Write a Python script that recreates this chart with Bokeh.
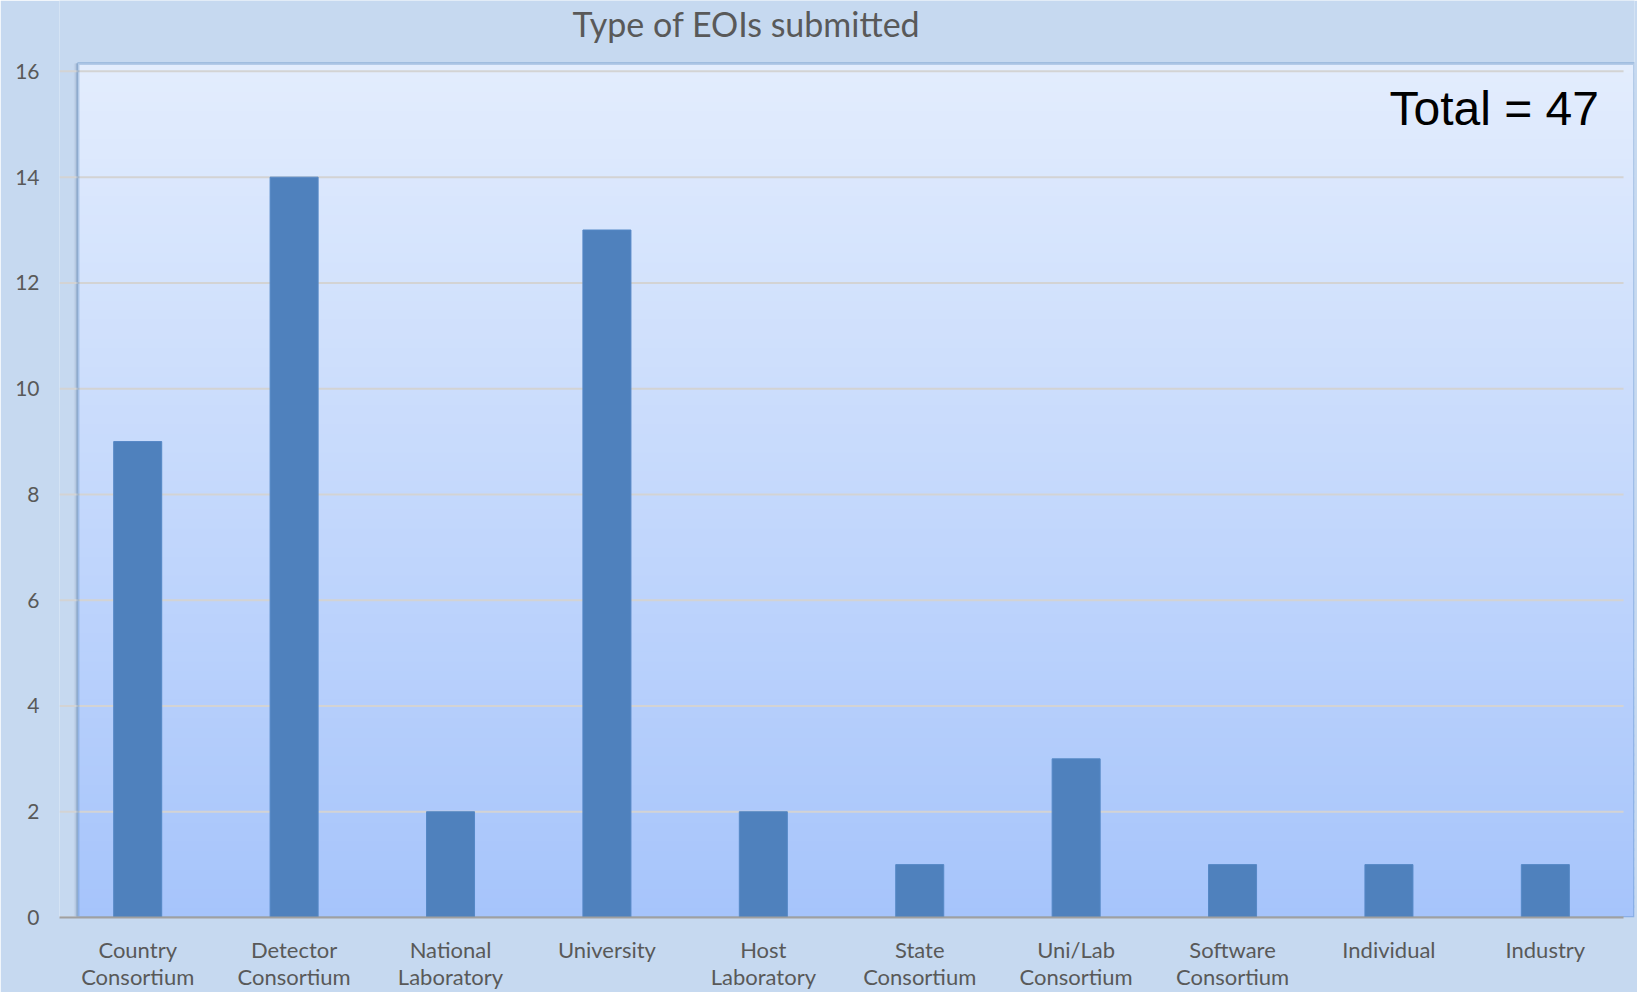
from bokeh.plotting import figure
from bokeh.models import Range1d, FixedTicker, BoxAnnotation, Label
from bokeh.embed import file_html
from bokeh.resources import INLINE

# ---- data ----
categories = [
    "Country\nConsortium",
    "Detector\nConsortium",
    "National\nLaboratory",
    "University",
    "Host\nLaboratory",
    "State\nConsortium",
    "Uni/Lab\nConsortium",
    "Software\nConsortium",
    "Individual",
    "Industry",
]
counts = [9, 14, 2, 13, 2, 1, 3, 1, 1, 1]
y_ticks = [0, 2, 4, 6, 8, 10, 12, 14, 16]
title_text = "Type of EOIs submitted"
total_text = "Total = %d" % sum(counts)

xs = list(range(len(categories)))

OUTER = "#C6D9F0"
TEXT = "#595959"
PX = 1.0 / 156.3  # one pixel in x data units (style helper)

p = figure(
    width=1637, height=992,
    x_range=Range1d(-0.5, 9.57),
    y_range=Range1d(0, 17.34),
    output_backend="svg", toolbar_location=None,
    min_border_left=59, min_border_right=3, min_border_top=0, min_border_bottom=73,
)
p.background_fill_color = OUTER
p.border_fill_color = OUTER
p.outline_line_color = None

# gradient panel (style only)
top_c = (0xE3, 0xED, 0xFD)
bot_c = (0xA6, 0xC4, 0xFB)
n = 90
ymax = 16.15
panel_left = -0.382
for i in range(n):
    f = (i + 0.5) / n
    c = tuple(int(round(bot_c[k] + (top_c[k] - bot_c[k]) * f)) for k in range(3))
    b = ymax * i / n
    t = min(ymax, ymax * (i + 1.3) / n)
    p.add_layout(BoxAnnotation(left=panel_left, bottom=b, top=t,
                               fill_color="#%02x%02x%02x" % c, fill_alpha=1.0,
                               line_color=None, level="image"))
# soft shadow left of the panel
for k, col in enumerate(["#B9CCE4", "#AEC1D9", "#A3B6CE"]):
    p.add_layout(BoxAnnotation(left=panel_left - (4 - k) * PX, right=panel_left,
                               bottom=0, top=ymax, fill_color=col, fill_alpha=0.5,
                               line_color=None, level="image"))

# grid lines (limited to category span)
p.xgrid.visible = False
p.ygrid.visible = False
p.segment(x0=[-0.5] * len(y_ticks), x1=[len(categories) - 0.5] * len(y_ticks),
          y0=y_ticks, y1=y_ticks, line_color="#D3D3D3", line_width=2)

# bars
p.vbar(x=xs, top=counts, width=0.307, fill_color="#4F81BD", line_color="#5588C6", line_width=1)

# panel border
p.add_layout(BoxAnnotation(left=panel_left, bottom=0, top=ymax, fill_color=None, fill_alpha=0,
                           line_color="#4A7DBA", line_width=3, level="glyph"))

# axes
p.xaxis.ticker = FixedTicker(ticks=xs)
p.xaxis.bounds = (-0.5, len(categories) - 0.5)
p.xaxis.major_label_overrides = {i: c for i, c in enumerate(categories)}
p.xaxis.major_label_text_font = "Lato"
p.xaxis.major_label_text_font_size = "22px"
p.xaxis.major_label_text_line_height = 1.0
p.xaxis.major_label_text_color = TEXT
p.xaxis.major_label_standoff = 18
p.xaxis.major_tick_out = 0
p.xaxis.major_tick_in = 0
p.xaxis.axis_line_color = "#A0A0A0"
p.xaxis.axis_line_width = 2
p.xaxis.major_tick_line_color = None
p.xaxis.minor_tick_line_color = None

p.yaxis.ticker = FixedTicker(ticks=y_ticks)
p.yaxis.major_label_text_font = "Lato"
p.yaxis.major_label_text_font_size = "21px"
p.yaxis.major_label_text_color = TEXT
p.yaxis.major_label_standoff = 20
p.yaxis.major_tick_out = 0
p.yaxis.major_tick_in = 0
p.yaxis.axis_line_color = None
p.yaxis.major_tick_line_color = None
p.yaxis.minor_tick_line_color = None

# title (as a label above the panel)
p.add_layout(Label(x=3.892, y=16.906, text=title_text, text_align="center",
                   text_baseline="middle", text_font="Lato", text_font_size="34px",
                   text_color=TEXT))

# total label
p.add_layout(Label(x=9.343, y=15.29, text=total_text, text_align="right",
                   text_baseline="alphabetic", text_font="Liberation Sans",
                   text_font_size="48px", text_color="#000000"))

open("out.html", "w").write(file_html(p, INLINE))
